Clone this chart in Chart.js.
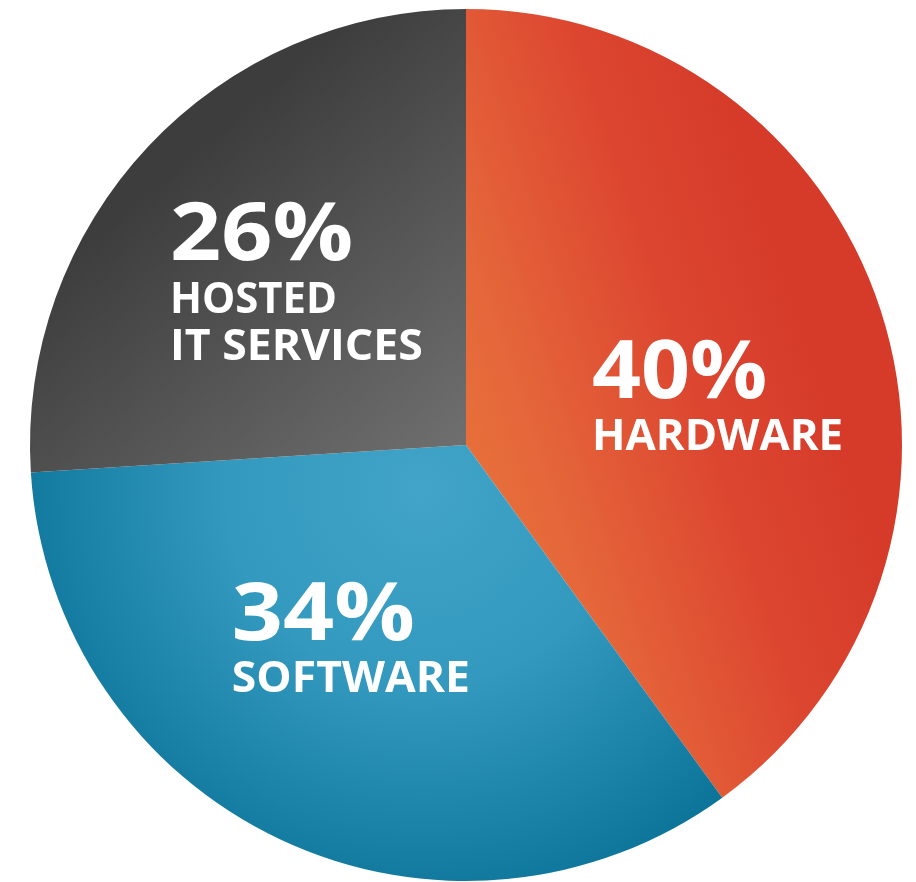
<!DOCTYPE html>
<html>
<head>
<meta charset="utf-8">
<script src="https://cdn.jsdelivr.net/npm/chart.js@4"></script>
<style>
  html, body { margin: 0; padding: 0; background: #ffffff; }
  #wrap { position: relative; width: 916px; height: 882px; }
</style>
</head>
<body>
<div id="wrap"><canvas id="pieChart"></canvas></div>
<script>
const categories = ["HARDWARE", "SOFTWARE", "HOSTED IT SERVICES"];
const shares = [40, 34, 26];
const labelLines = [["HARDWARE"], ["SOFTWARE"], ["HOSTED", "IT SERVICES"]];

// label placement, in units of the pie radius from its centre
const LABEL_LAYOUT = [
  { x: 0.289, pct: { y: -0.108, w: 0.402 }, lines: [{ y: 0.011, w: 0.576 }] },
  { x: -0.537, pct: { y: 0.447, w: 0.42 }, lines: [{ y: 0.567, w: 0.546 }] },
  { x: -0.679, pct: { y: -0.424, w: 0.42 }, lines: [{ y: -0.303, w: 0.383 }, { y: -0.196, w: 0.58 }] },
];

function sliceFill(ctx) {
  const area = ctx.chart.chartArea;
  if (!area) return "#888";
  const r = Math.min(area.right - area.left, area.bottom - area.top) / 2;
  const cx = (area.left + area.right) / 2;
  const cy = (area.top + area.bottom) / 2;
  const c = ctx.chart.ctx;
  let g;
  switch (ctx.dataIndex) {
    case 0:
      g = c.createLinearGradient(cx, cy + 0.4 * r, cx + 0.9 * r, cy + 0.1 * r);
      g.addColorStop(0, "#E9763B");
      g.addColorStop(0.3, "#E5663A");
      g.addColorStop(0.7, "#DC4630");
      g.addColorStop(1, "#D63B2A");
      return g;
    case 1:
      g = c.createRadialGradient(cx - 0.1 * r, cy + 0.1 * r, 0, cx - 0.1 * r, cy + 0.1 * r, r);
      g.addColorStop(0, "#41A4C8");
      g.addColorStop(0.45, "#3399BE");
      g.addColorStop(1, "#0C7398");
      return g;
    default:
      g = c.createLinearGradient(cx - 0.6 * r, cy - 0.7 * r, cx, cy);
      g.addColorStop(0, "#3D3D3D");
      g.addColorStop(1, "#6F6F6F");
      return g;
  }
}

function fitText(c, text, x, y, size, width) {
  c.font = `700 ${size}px "Open Sans", sans-serif`;
  const natural = c.measureText(text).width;
  c.save();
  c.translate(x, y);
  c.scale(width / natural, 1);
  c.fillText(text, 0, 0);
  c.restore();
}

const sliceLabels = {
  id: "sliceLabels",
  afterDatasetsDraw(chart) {
    const arcs = chart.getDatasetMeta(0).data;
    const c = chart.ctx;
    c.save();
    c.fillStyle = "#ffffff";
    c.textAlign = "left";
    c.textBaseline = "alphabetic";
    arcs.forEach((arc, i) => {
      const r = arc.outerRadius;
      const lay = LABEL_LAYOUT[i];
      const x = arc.x + lay.x * r;
      fitText(c, `${shares[i]}%`, x, arc.y + lay.pct.y * r, r * 0.186, lay.pct.w * r);
      labelLines[i].forEach((line, j) => {
        const l = lay.lines[j];
        fitText(c, line, x, arc.y + l.y * r, r * 0.099, l.w * r);
      });
    });
    c.restore();
  },
};

new Chart(document.getElementById("pieChart"), {
  type: "pie",
  data: {
    labels: categories,
    datasets: [
      {
        data: shares,
        backgroundColor: sliceFill,
        borderWidth: 0,
      },
    ],
  },
  options: {
    responsive: true,
    maintainAspectRatio: false,
    animation: false,
    layout: { padding: { left: 30, right: 14, top: 9, bottom: 1 } },
    plugins: {
      legend: { display: false },
      tooltip: { enabled: false },
    },
  },
  plugins: [sliceLabels],
});
</script>
</body>
</html>
